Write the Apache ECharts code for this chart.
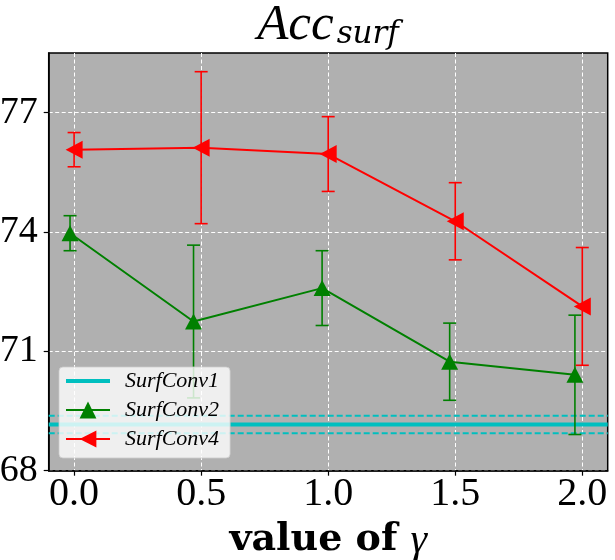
<!DOCTYPE html>
<html>
<head>
<meta charset="utf-8">
<script src="https://cdn.jsdelivr.net/npm/echarts@6/dist/echarts.min.js"></script>
<style>
  html, body { margin: 0; padding: 0; background: #fff; }
  #chart { width: 615px; height: 560px; }
</style>
</head>
<body>
<div id="chart"></div>
<script>
// values
var gammas = [0.0, 0.5, 1.0, 1.5, 2.0];
var conv2X = [-0.016, 0.47, 0.976, 1.478, 1.971];
var conv2Mean = [73.97, 71.75, 72.59, 70.74, 70.41];
var conv2Std = [0.44, 1.92, 0.94, 0.97, 1.50];
var conv4Mean = [76.07, 76.12, 75.96, 74.27, 72.13];
var conv4Std = [0.43, 1.91, 0.94, 0.97, 1.48];
var conv1Mean = 69.16;
var conv1Std = 0.22;
var xTicks = [0.0, 0.5, 1.0, 1.5, 2.0];
var yTicks = [68, 71, 74, 77];
var xRange = [-0.1, 2.1];
var yRange = [68, 78.5];

var SERIF = "'Liberation Serif', 'DejaVu Serif', serif";
var WIDE_SERIF = "'DejaVu Serif', 'Liberation Serif', serif";
var CYAN = '#00bfbf', GREEN = '#008000', RED = '#ff0000';

function pairs(xs, ys) {
  return xs.map(function (x, i) { return [x, ys[i]]; });
}
function errRows(xs, mean, std) {
  return xs.map(function (x, i) { return [x, mean[i] - std[i], mean[i] + std[i]]; });
}
function flatLine(v) {
  return [[xRange[0], v], [xRange[1], v]];
}

function errorBar(color) {
  return function (params, api) {
    var x = api.value(0);
    var lo = api.coord([x, api.value(1)]);
    var hi = api.coord([x, api.value(2)]);
    var cap = 6.5;
    var st = { stroke: color, lineWidth: 1.6 };
    return {
      type: 'group',
      children: [
        { type: 'line', shape: { x1: hi[0], y1: hi[1], x2: lo[0], y2: lo[1] }, style: st },
        { type: 'line', shape: { x1: hi[0] - cap, y1: hi[1], x2: hi[0] + cap, y2: hi[1] }, style: st },
        { type: 'line', shape: { x1: lo[0] - cap, y1: lo[1], x2: lo[0] + cap, y2: lo[1] }, style: st }
      ]
    };
  };
}

var chart = echarts.init(document.getElementById('chart'), null, { renderer: 'canvas' });

var option = {
  animation: false,
  backgroundColor: '#ffffff',
  title: {
    text: '{a|Acc}{s|surf}',
    left: 328,
    textAlign: 'center',
    top: 0,
    padding: 0,
    textStyle: {
      fontWeight: 'normal',
      rich: {
        a: { fontFamily: SERIF, fontStyle: 'italic', fontWeight: 'normal', fontSize: 51, lineHeight: 38, verticalAlign: 'top', color: '#000' },
        s: { fontFamily: WIDE_SERIF, fontStyle: 'italic', fontWeight: 'normal', fontSize: 31, lineHeight: 30, padding: [19, 0, 0, 3], verticalAlign: 'top', color: '#000' }
      }
    }
  },
  grid: {
    left: 48.7, right: 7.3, top: 53, bottom: 89.3,
    outerBoundsMode: 'none',
    show: true,
    backgroundColor: '#b0b0b0',
    borderColor: '#000',
    borderWidth: 1.5
  },
  legend: {
    orient: 'vertical',
    left: 59,
    top: 367,
    padding: [3, 11, 8, 6],
    itemGap: 7,
    itemWidth: 44,
    itemHeight: 21,
    backgroundColor: 'rgba(255,255,255,0.8)',
    borderColor: 'rgba(204,204,204,0.8)',
    borderWidth: 1,
    borderRadius: 4,
    textStyle: { fontFamily: SERIF, fontStyle: 'italic', fontSize: 22, lineHeight: 22, color: '#000', padding: [0, 0, 0, 10] },
    data: [
      { name: 'SurfConv1', icon: 'path://M0,0L44,0L44,4L0,4Z' },
      { name: 'SurfConv2' },
      { name: 'SurfConv4' }
    ]
  },
  xAxis: {
    type: 'value',
    min: xRange[0],
    max: xRange[1],
    name: '{b|value of }{g|γ}',
    nameLocation: 'middle',
    nameGap: 48,
    nameTextStyle: {
      rich: {
        b: { fontFamily: WIDE_SERIF, fontWeight: 'bold', fontSize: 38, lineHeight: 40, color: '#000' },
        g: { fontFamily: SERIF, fontStyle: 'italic', fontSize: 42, lineHeight: 40, color: '#000' }
      }
    },
    axisLine: { show: true, onZero: false, lineStyle: { color: '#000', width: 1.5 } },
    axisTick: { show: true, length: 5, customValues: xTicks, lineStyle: { color: '#000', width: 1.2 } },
    axisLabel: {
      customValues: xTicks,
      margin: 4,
      fontFamily: SERIF, fontSize: 40, lineHeight: 40, color: '#000',
      formatter: function (v) { return v.toFixed(1); }
    },
    splitLine: { show: true, lineStyle: { color: '#ffffff', width: 1, type: [4, 2.5] } }
  },
  yAxis: {
    type: 'value',
    min: yRange[0],
    max: yRange[1],
    axisLine: { show: true, onZero: false, lineStyle: { color: '#000', width: 1.5 } },
    axisTick: { show: true, length: 5, customValues: yTicks, lineStyle: { color: '#000', width: 1.2 } },
    axisLabel: {
      customValues: yTicks,
      margin: 11,
      fontFamily: SERIF, fontSize: 38, color: '#000',
      formatter: function (v) { return String(v); }
    },
    splitLine: { show: true, lineStyle: { color: '#ffffff', width: 1, type: [4, 2.5] } }
  },
  series: [
    {
      name: 'SurfConv1', type: 'line', data: flatLine(conv1Mean), symbol: 'none',
      color: CYAN, lineStyle: { color: CYAN, width: 4 }, z: 2
    },
    {
      name: 'conv1Upper', type: 'line', data: flatLine(conv1Mean + conv1Std), symbol: 'none',
      lineStyle: { color: CYAN, width: 2, type: [6, 3] }, z: 2
    },
    {
      name: 'conv1Lower', type: 'line', data: flatLine(conv1Mean - conv1Std), symbol: 'none',
      lineStyle: { color: CYAN, width: 2, type: [6, 3] }, z: 2
    },
    {
      name: 'conv2Err', type: 'custom', renderItem: errorBar(GREEN),
      data: errRows(conv2X, conv2Mean, conv2Std), encode: { x: 0, y: [1, 2] }, z: 3
    },
    {
      name: 'SurfConv2', type: 'line', data: pairs(conv2X, conv2Mean),
      symbol: 'triangle', symbolSize: [17, 16], color: GREEN,
      itemStyle: { color: GREEN }, lineStyle: { color: GREEN, width: 2 }, z: 4
    },
    {
      name: 'conv4Err', type: 'custom', renderItem: errorBar(RED),
      data: errRows(gammas, conv4Mean, conv4Std), encode: { x: 0, y: [1, 2] }, z: 5
    },
    {
      name: 'SurfConv4', type: 'line', data: pairs(gammas, conv4Mean),
      symbol: 'triangle', symbolSize: [18, 17], symbolRotate: 90, color: RED,
      itemStyle: { color: RED }, lineStyle: { color: RED, width: 2 }, z: 6
    }
  ]
};

chart.setOption(option);
</script>
</body>
</html>
